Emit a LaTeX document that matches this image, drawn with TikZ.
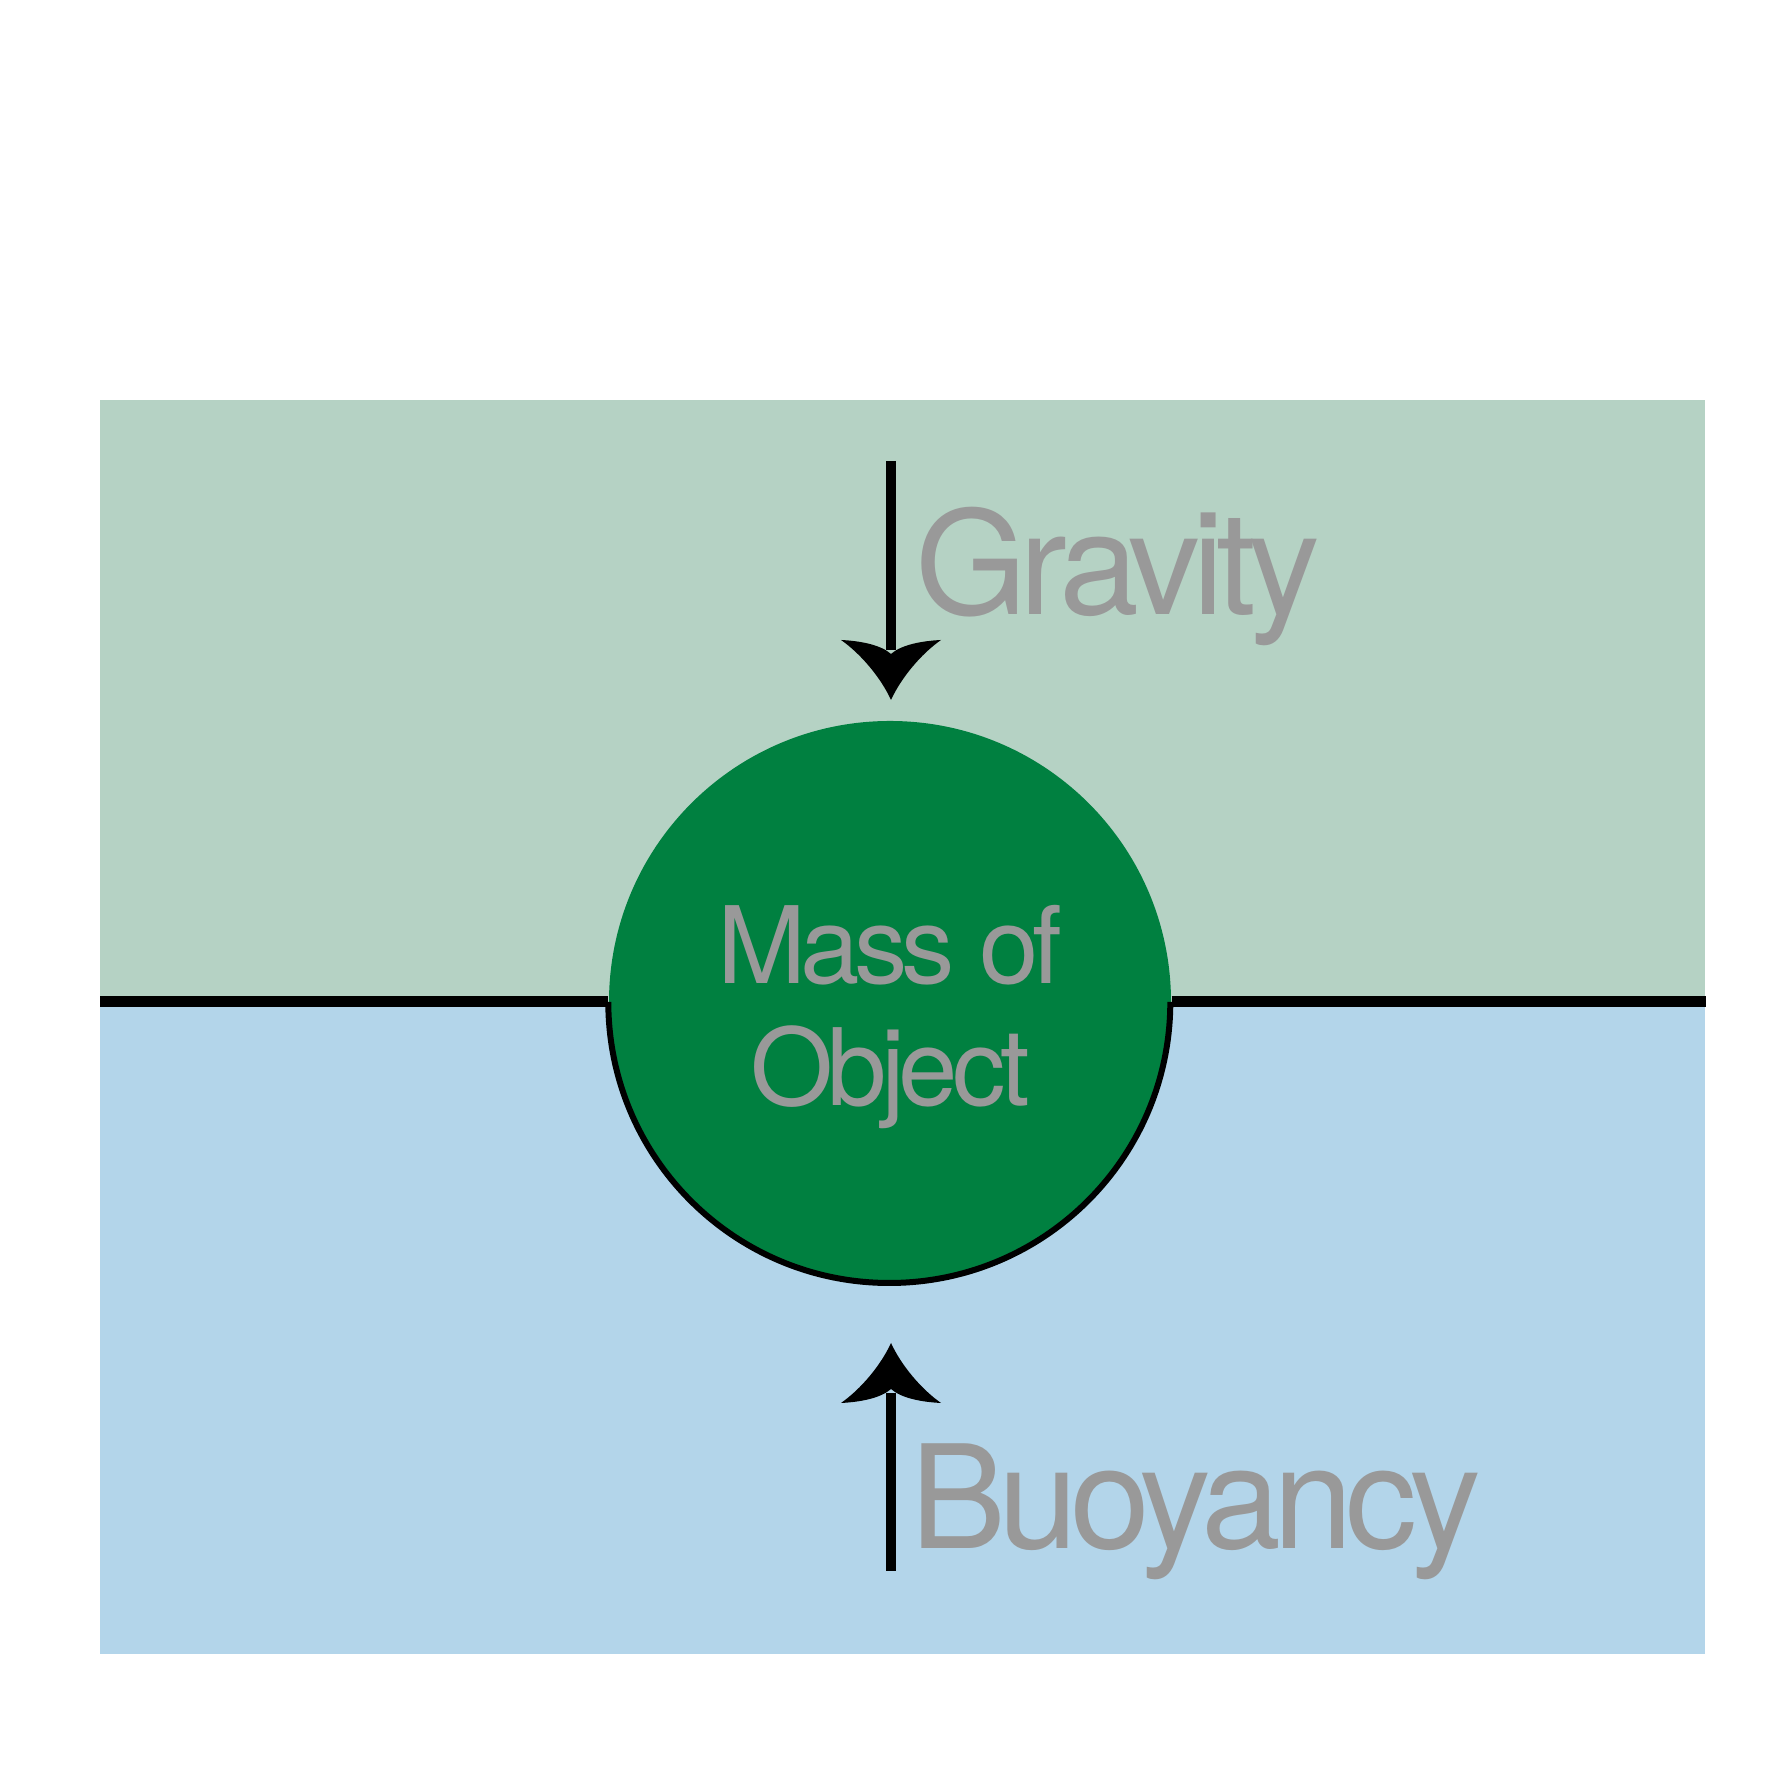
\documentclass[tikz,border=0pt]{standalone}
\usepackage{fontspec}
\usepackage{tikz}
\usetikzlibrary{positioning, calc}
\newfontfamily\labelfont{TeX Gyre Heros}[LetterSpace=-5.5]
\definecolor{airgreen}{RGB}{181,210,196}
\definecolor{waterblue}{RGB}{179,213,234}
\definecolor{massgreen}{RGB}{0,128,64}
\definecolor{labelgray}{RGB}{153,153,153}
\tikzset{
  massball/.style={circle, fill=massgreen, minimum size=5.62cm, inner sep=0pt,
    text=labelgray, font=\labelfont\fontsize{30.4}{34.5}\selectfont},
  forcelabel/.style={anchor=base west, inner sep=0pt, text=labelgray,
    font=\labelfont\fontsize{40.9}{44}\selectfont},
  waterline/.style={line width=0.11cm, color=black},
  shaft/.style={line width=0.10cm, color=black},
  rimline/.style={line width=0.06cm, color=black},
  forcehead/.pic={
    \fill[black] (0,0) .. controls (-0.1,0.22) and (-0.3,0.46) .. (-0.5,0.60)
      .. controls (-0.3,0.59) and (-0.1,0.55) .. (0,0.46)
      .. controls (0.1,0.55) and (0.3,0.59) .. (0.5,0.60)
      .. controls (0.3,0.46) and (0.1,0.22) .. (0,0) -- cycle;
  }
}
\begin{document}
\begin{tikzpicture}
  \useasboundingbox (0,0) rectangle (17.82,17.82);
  % Air and water
  \fill[airgreen] (1.00,7.80) rectangle (17.05,13.82);
  \fill[waterblue] (1.00,1.28) rectangle (17.05,7.80);

  % Object
  \node[massball] (mass) at (8.90,7.80)
    {\raisebox{-0.40cm}[0pt][0pt]{\begin{tabular}{@{}c@{}}Mass of\\Object\end{tabular}}};
  \draw[rimline] (mass.west) arc[start angle=180, end angle=360, radius=2.81cm];

  % Surface
  \coordinate (surfleft) at (1.00,7.80);
  \coordinate (surfright) at (17.06,7.80);
  \draw[waterline] (surfleft) -- (mass.west);
  \draw[waterline] (mass.east) -- (surfright);

  % Gravity
  \coordinate (gtail) at (8.91,13.21);
  \coordinate (gtip) at (8.91,10.82);
  \draw[shaft] (gtail) -- ($(gtip)+(0,0.5)$);
  \pic at (gtip) {forcehead};
  \node[forcelabel] (gravity) at (9.15,11.67) {Gravity};

  % Buoyancy
  \coordinate (btail) at (8.91,2.11);
  \coordinate (btip) at (8.91,4.39);
  \draw[shaft] (btail) -- ($(btip)-(0,0.5)$);
  \pic[rotate=180] at (btip) {forcehead};
  \node[forcelabel] (buoyancy) at (9.10,2.33) {Buoyancy};
\end{tikzpicture}
\end{document}
